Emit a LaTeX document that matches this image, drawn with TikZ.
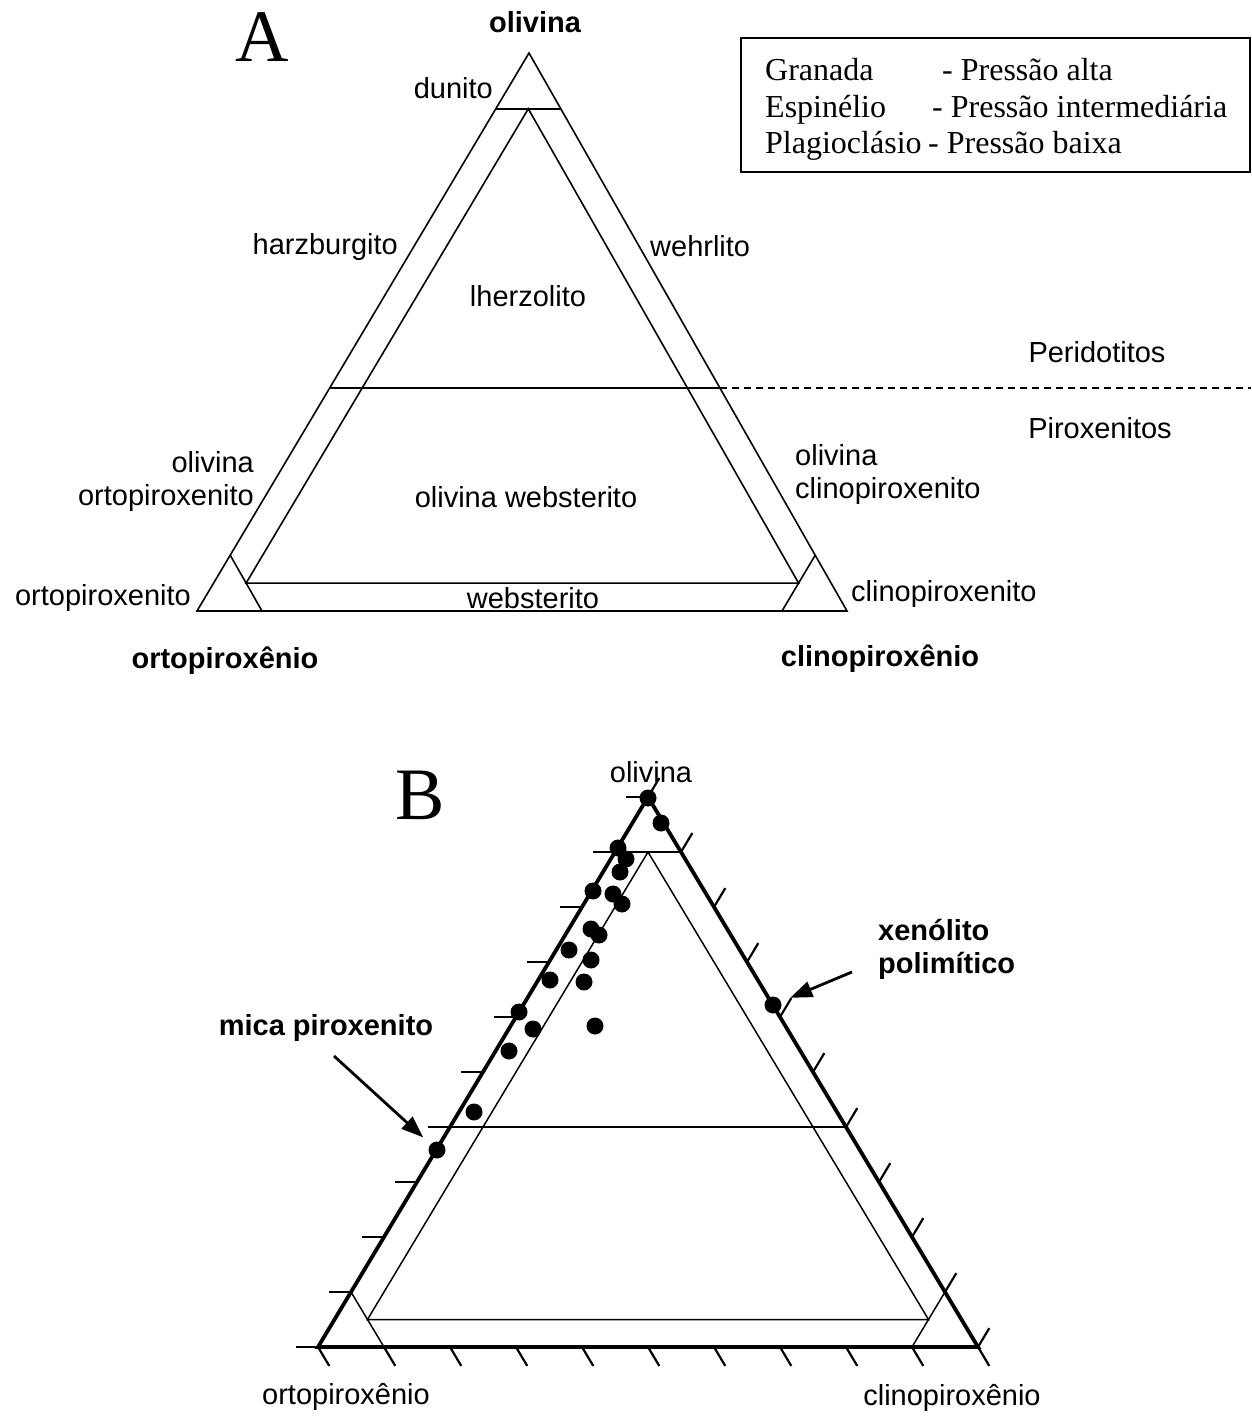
\documentclass[tikz,border=0pt]{standalone}
\usepackage{fontspec}
\setmainfont{Liberation Serif}
\setsansfont{Liberation Sans}
\usetikzlibrary{arrows.meta,calc}
\newcommand\labf{\sffamily\fontsize{29}{33}\selectfont}
\newcommand\labb{\sffamily\bfseries\fontsize{29}{33}\selectfont}
\newcommand\legf{\rmfamily\fontsize{32}{37}\selectfont}
\newcommand\bigf{\rmfamily\fontsize{74}{80}\selectfont}
\tikzset{
  thinA/.style={line width=1.6pt, line join=miter},
  thickB/.style={line width=3.8pt, line join=miter},
  thinB/.style={line width=1.5pt},
  tickB/.style={line width=2.2pt},
  lab/.style={font=\labf, inner sep=0pt, text=black},
  labbold/.style={font=\labb, inner sep=0pt, text=black},
  leg/.style={font=\legf, inner sep=0pt, anchor=base west},
  big/.style={font=\bigf, inner sep=0pt},
  dot/.style={circle, fill=black, inner sep=0pt, minimum size=17pt},
  arr/.style={line width=2.8pt, -{Triangle[length=22pt,width=16pt]}},
  dashln/.style={line width=1.5pt, dash pattern=on 7pt off 5pt}
}
\begin{document}
\begin{tikzpicture}[x=1pt,y=-1pt]
\useasboundingbox (0,0) rectangle (1251,1417);

% ================= Diagram A =================
\coordinate (Atop) at (529,53);
\coordinate (ABL) at (197,611);
\coordinate (ABR) at (847,611);
\draw[thinA] (Atop) -- (ABL) -- (ABR) -- cycle;
% dunito line (90% olivine)
\draw[thinA] (barycentric cs:Atop=0.9,ABL=0.1) -- (barycentric cs:Atop=0.9,ABR=0.1);
% 40% olivine line
\coordinate (A40L) at (barycentric cs:Atop=0.4,ABL=0.6);
\coordinate (A40R) at (barycentric cs:Atop=0.4,ABR=0.6);
\coordinate (dashend) at (1251,0);
\draw[thinA] (A40L) -- (A40R);
\draw[dashln] (A40R) -- (A40R -| dashend);
% inner triangle
\draw[thinA] (barycentric cs:Atop=0.9,ABL=0.05,ABR=0.05) -- (barycentric cs:Atop=0.05,ABL=0.9,ABR=0.05) -- (barycentric cs:Atop=0.05,ABL=0.05,ABR=0.9) -- cycle;
% corner triangles
\draw[thinA] (barycentric cs:ABL=0.9,Atop=0.1) -- (barycentric cs:ABL=0.9,ABR=0.1);
\draw[thinA] (barycentric cs:ABR=0.9,Atop=0.1) -- (barycentric cs:ABR=0.9,ABL=0.1);

\node[big] (letA) at (262,37) {A};
\node[labbold] (olA) at (535,22) {olivina};
\node[lab, anchor=east] (dun) at (493,88) {dunito};
\node[lab, anchor=east] (harz) at (398,247) {harzburgito};
\node[lab, anchor=west] (wehr) at (650,246) {wehrlito};
\node[lab] (lherz) at (528,296) {lherzolito};
\node[lab] (perid) at (1097,352) {Peridotitos};
\node[lab] (pirox) at (1100,428) {Piroxenitos};
\node[lab, anchor=east, align=right] (olopx) at (254,481) {olivina\\ortopiroxenito};
\node[lab] (olweb) at (526,497) {olivina websterito};
\node[lab, anchor=west, align=left] (olcpx) at (795,474) {olivina\\clinopiroxenito};
\node[lab, anchor=east] (opxito) at (191,598) {ortopiroxenito};
\node[lab] (web) at (533,598) {websterito};
\node[lab, anchor=west] (cpxito) at (851,594) {clinopiroxenito};
\node[labbold] (opxA) at (225,661) {ortopiroxênio};
\node[labbold] (cpxA) at (880,659) {clinopiroxênio};

% legend
\draw[line width=1.5pt] (741,38) rectangle (1250,172);
\node[leg] (g1) at (765,80) {Granada};
\node[leg] (g2) at (942,80) {- Pressão alta};
\node[leg] (e1) at (765,117) {Espinélio};
\node[leg] (e2) at (932,117) {- Pressão intermediária};
\node[leg] (p1) at (765,153) {Plagioclásio};
\node[leg] (p2) at (928,153) {- Pressão baixa};

% ================= Diagram B =================
\coordinate (Btop) at (648,797);
\coordinate (BBL) at (318,1347);
\coordinate (BBR) at (978,1347);
% ticks
\foreach \k in {0,...,10}{
  \draw[tickB] ($(Btop)!\k/10!(BBL)$) -- ++(-22,0);
  \draw[tickB] ($(Btop)!\k/10!(BBR)$) -- ++(11.3,-18.9);
  \draw[tickB] ($(BBL)!\k/10!(BBR)$) -- ++(11.3,18.9);
}
% 90% and 40% lines
\draw[thinB] (barycentric cs:Btop=0.9,BBL=0.1) -- (barycentric cs:Btop=0.9,BBR=0.1);
\draw[thinB] (barycentric cs:Btop=0.4,BBL=0.6) -- (barycentric cs:Btop=0.4,BBR=0.6);
% inner triangle
\draw[thinB] (barycentric cs:Btop=0.9,BBL=0.05,BBR=0.05) -- (barycentric cs:Btop=0.05,BBL=0.9,BBR=0.05) -- (barycentric cs:Btop=0.05,BBL=0.05,BBR=0.9) -- cycle;
% corner triangles
\draw[thinB] (barycentric cs:BBL=0.9,Btop=0.1) -- (barycentric cs:BBL=0.9,BBR=0.1);
\draw[thinB] (barycentric cs:BBR=0.9,Btop=0.1) -- (barycentric cs:BBR=0.9,BBL=0.1);
% outer
\draw[thickB] (Btop) -- (BBL) -- (BBR) -- cycle;

% data points
\node[dot] (d1) at (648,798) {};
\node[dot] (d2) at (661,823) {};
\node[dot] (d3) at (618,848) {};
\node[dot] (d4) at (626,859) {};
\node[dot] (d5) at (620,872) {};
\node[dot] (d6) at (593,891) {};
\node[dot] (d7) at (613,894) {};
\node[dot] (d8) at (622,904) {};
\node[dot] (d9) at (591,929) {};
\node[dot] (d10) at (599,935) {};
\node[dot] (d11) at (569,950) {};
\node[dot] (d12) at (591,960) {};
\node[dot] (d13) at (550,980) {};
\node[dot] (d14) at (584,982) {};
\node[dot] (d15) at (519,1012) {};
\node[dot] (d16) at (533,1029) {};
\node[dot] (d17) at (509,1051) {};
\node[dot] (d18) at (595,1026) {};
\node[dot] (d19) at (474,1112) {};
\node[dot] (d20) at (437,1150) {};
\node[dot] (d21) at (773,1005) {};

\node[big] (letB) at (420,795) {B};
\node[lab] (olB) at (651,772) {olivina};
\node[lab] (opxB) at (346,1397) {ortopiroxênio};
\node[lab] (cpxB) at (952,1398) {clinopiroxênio};
\node[labbold] (mica) at (326,1028) {mica piroxenito};
\node[labbold, anchor=west, align=left] (xeno) at (878,949) {xenólito\\polimítico};

\coordinate (micatail) at (334,1056);
\draw[arr, shorten >=10pt] (micatail) -- (d20);
\coordinate (xenotail) at (852,972);
\draw[arr, shorten >=10pt] (xenotail) -- (d21);
\end{tikzpicture}
\end{document}
